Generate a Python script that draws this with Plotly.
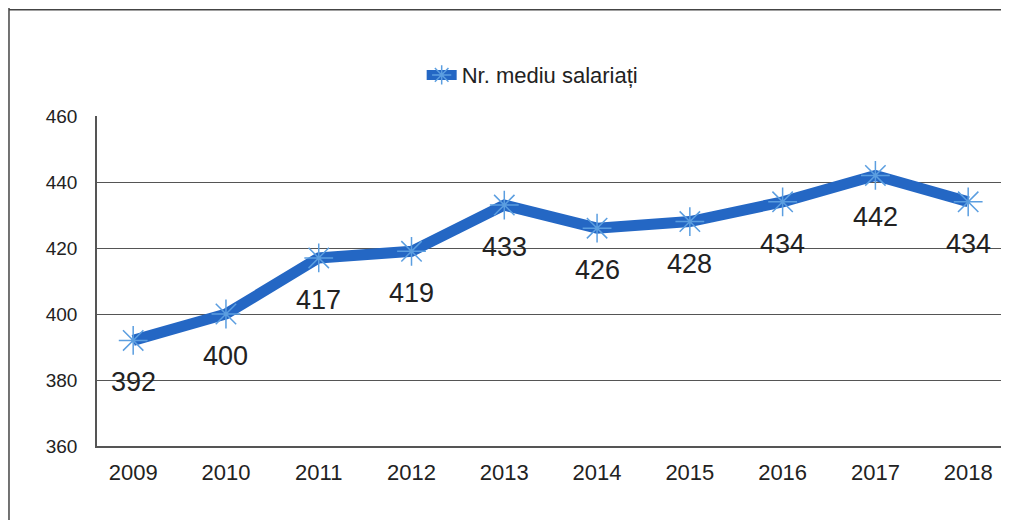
import plotly.graph_objects as go

years = ["2009", "2010", "2011", "2012", "2013", "2014", "2015", "2016", "2017", "2018"]
salariati = [392, 400, 417, 419, 433, 426, 428, 434, 442, 434]
series_name = "Nr. mediu salariați"

line_color = "#2467c4"
marker_color = "#5b9ee0"

fig = go.Figure()
fig.add_trace(go.Scatter(
    x=years, y=salariati, name=series_name, mode="lines+markers",
    line=dict(color=line_color, width=11),
    marker=dict(symbol="asterisk-open", size=24, color=marker_color,
                line=dict(color=marker_color, width=1.5)),
))

for i, v in enumerate(salariati):
    fig.add_annotation(x=i, y=v, text=str(v), showarrow=False, yshift=-42,
                       font=dict(family="Liberation Sans, Arial", size=27, color="#222"))

fig.add_shape(type="line", xref="paper", yref="paper", x0=-0.0965, x1=-0.0965, y0=-0.25, y1=1.4,
              line=dict(color="#444", width=1.5))
fig.add_shape(type="line", xref="paper", yref="paper", x0=-0.0965, x1=1.0, y0=1.322, y1=1.322,
              line=dict(color="#444", width=1.5))

fig.update_layout(
    width=1001, height=512,
    margin=dict(l=89, r=0, t=108, b=74),
    paper_bgcolor="white", plot_bgcolor="white",
    font=dict(family="Liberation Sans, Arial", color="#222"),
    showlegend=True,
    legend=dict(orientation="h", x=0.356, y=1.124, xanchor="left", yanchor="middle",
                font=dict(size=22), bgcolor="rgba(0,0,0,0)"),
    xaxis=dict(type="category", range=[-0.39, 9.44], showgrid=False,
               showline=True, linecolor="#555", linewidth=1.5,
               tickfont=dict(size=22), ticks="", ticklabelstandoff=6),
    yaxis=dict(range=[360, 460], dtick=20, showgrid=True, gridcolor="#555", gridwidth=1.3,
               showline=True, linecolor="#555", linewidth=1.5, zeroline=False,
               tickfont=dict(size=19), ticks="", ticklabelstandoff=14),
)

fig.write_html("out.html")
